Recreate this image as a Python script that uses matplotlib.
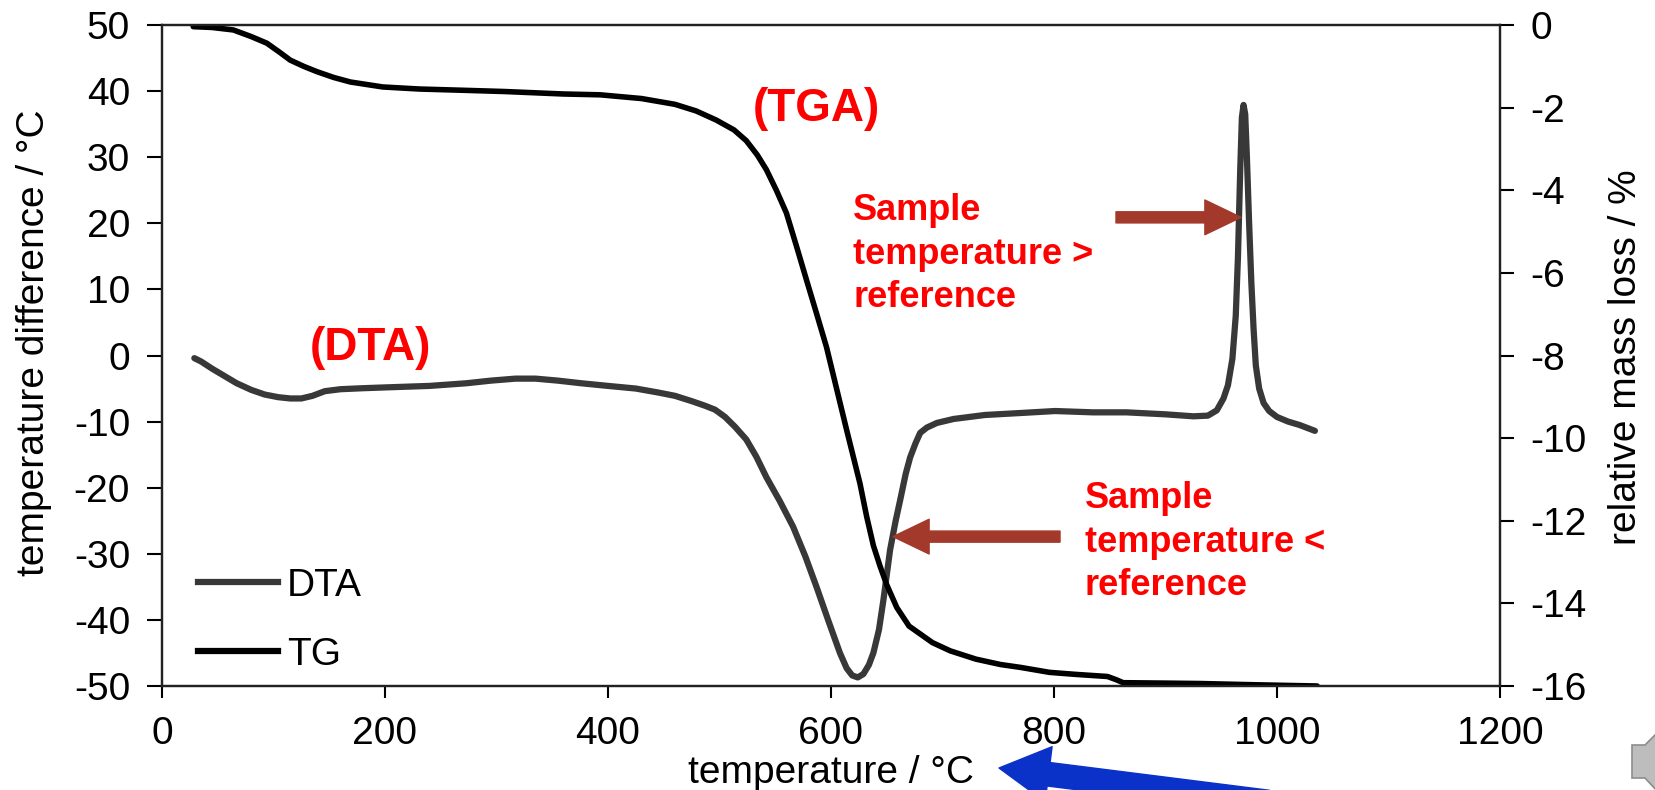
import matplotlib
matplotlib.use("Agg")
import matplotlib.pyplot as plt
from matplotlib.lines import Line2D
from matplotlib.patches import Polygon

plt.rcParams['font.family'] = ['Liberation Sans', 'DejaVu Sans']
plt.rcParams['axes.unicode_minus'] = False

# DTA signal (left axis, temperature difference in °C)
dta_temp = [29, 35, 45, 55, 67, 80, 92, 104, 115, 125, 135, 146, 160, 180, 205,
            240, 273, 295, 317, 335, 355, 376, 400, 425, 445, 460, 475, 487, 496,
            505, 514, 524, 533, 542, 554, 566, 577, 587, 598, 608, 614, 619, 624,
            629, 634, 638, 643, 647, 653, 658, 662, 667, 671, 676, 680, 686, 695,
            710, 738, 770, 801, 835, 865, 900, 925, 938, 946, 952, 956, 960, 963,
            965, 967, 968.5, 970, 971.5, 973, 975, 977, 979, 981, 984, 988, 993,
            1000, 1010, 1020, 1034]
dta_diff = [-0.4, -0.9, -2.0, -3.0, -4.2, -5.2, -5.9, -6.3, -6.5, -6.5, -6.1, -5.4,
            -5.1, -4.95, -4.8, -4.6, -4.2, -3.8, -3.5, -3.5, -3.8, -4.2, -4.6, -5.0,
            -5.6, -6.1, -6.9, -7.6, -8.2, -9.3, -10.8, -12.7, -15.3, -18.4, -22.0,
            -25.9, -30.4, -35.0, -40.3, -45.0, -47.3, -48.4, -48.7, -48.2, -46.8,
            -45.0, -41.5, -37.0, -29.4, -25.0, -21.9, -17.9, -15.4, -13.2, -11.7,
            -10.9, -10.2, -9.6, -9.0, -8.7, -8.4, -8.6, -8.6, -8.9, -9.2, -9.1,
            -8.3, -6.5, -4.5, -0.5, 6.0, 15.0, 28.0, 36.0, 37.9, 36.5, 30.0, 20.0,
            11.0, 4.0, -1.5, -5.0, -7.2, -8.4, -9.3, -10.0, -10.5, -11.4]

# TG signal (right axis, relative mass loss in %)
tg_temp = [28, 45, 64, 80, 94, 105, 115, 127, 139, 154, 169, 198, 231, 270, 307,
           360, 393, 430, 460, 479, 497, 513, 524, 534, 542, 551, 560, 569, 578,
           587, 596, 605, 614, 620, 626, 632, 638, 644, 650, 659, 670, 691, 707,
           730, 752, 770, 796, 820, 848, 856, 862, 900, 931, 980, 1036]
tg_loss = [-0.04, -0.06, -0.12, -0.28, -0.44, -0.65, -0.85, -1.0, -1.13, -1.27,
           -1.38, -1.5, -1.55, -1.58, -1.61, -1.67, -1.69, -1.78, -1.92, -2.08,
           -2.3, -2.54, -2.8, -3.15, -3.5, -4.0, -4.55, -5.35, -6.17, -6.98, -7.8,
           -8.8, -9.8, -10.45, -11.1, -11.9, -12.6, -13.1, -13.55, -14.1, -14.55,
           -14.95, -15.15, -15.35, -15.48, -15.55, -15.67, -15.72, -15.77, -15.85,
           -15.92, -15.93, -15.94, -15.97, -16.0]

x_ticks = list(range(0, 1201, 200))
left_ticks = list(range(-50, 51, 10))
right_ticks = list(range(-16, 1, 2))

dta_color = '#383838'
arrow_brown = '#a3392a'
red = '#ff0000'

fig = plt.figure(figsize=(16.56, 7.9), dpi=100)
ax = fig.add_axes([162 / 1656, 1 - 686 / 790, 1338 / 1656, 661 / 790])
ax2 = ax.twinx()

ax.plot(dta_temp, dta_diff, color=dta_color, lw=4.5, solid_capstyle='round',
        solid_joinstyle='round')
ax2.plot(tg_temp, tg_loss, color='black', lw=4.0, solid_capstyle='round',
         solid_joinstyle='round')

ax.set_xlim(0, 1200)
ax.set_ylim(-50, 50)
ax2.set_ylim(-16, 0)
ax.set_xticks(x_ticks)
ax.set_yticks(left_ticks)
ax2.set_yticks(right_ticks)

for a in (ax, ax2):
    for s in a.spines.values():
        s.set_linewidth(1.6)
        s.set_color('#222222')

ax.tick_params(axis='x', direction='out', length=8.5, width=1.5, labelsize=28, pad=13)
ax.tick_params(axis='y', direction='out', length=11, width=1.5, labelsize=28, pad=12)
ax2.tick_params(axis='y', direction='out', length=10, width=1.5, labelsize=28, pad=12)

ax.set_xlabel('temperature / °C', fontsize=28, labelpad=2)
ax.set_ylabel('temperature difference / °C', fontsize=28, va='center')
ax.yaxis.set_label_coords(-0.0957, 0.52)
ax2.set_ylabel('relative mass loss / %', fontsize=28, va='center', rotation=90)
ax2.yaxis.set_label_coords(1.094, 0.498)

handles = [Line2D([], [], color=dta_color, lw=4.5),
           Line2D([], [], color='black', lw=4.5)]
ax.legend(handles, ['DTA', 'TG'], loc='center left', bbox_to_anchor=(0.0269, 0.0998),
          frameon=False, fontsize=28, borderpad=0, borderaxespad=0,
          handlelength=2.05, handletextpad=0.23, labelspacing=0.85)

# curve labels
ax.text(587, 37.3, '(TGA)', color=red, fontsize=33, fontweight='bold',
        ha='center', va='center')
ax.text(186.6, 1.1, '(DTA)', color=red, fontsize=33, fontweight='bold',
        ha='center', va='center')
ax.text(619.8, 24.6, 'Sample\ntemperature >\nreference', color=red, fontsize=26,
        fontweight='bold', ha='left', va='top', linespacing=1.32)
ax.text(827.8, -19.0, 'Sample\ntemperature <\nreference', color=red, fontsize=26,
        fontweight='bold', ha='left', va='top', linespacing=1.32)

# pointer arrows
arrow_style = 'simple,head_length=26,head_width=25,tail_width=8'
ax.annotate('', xy=(967.7, 20.9), xytext=(855.6, 20.9),
            arrowprops=dict(arrowstyle=arrow_style, color=arrow_brown,
                            shrinkA=0, shrinkB=0, mutation_scale=1))
ax.annotate('', xy=(655.6, -27.4), xytext=(805.4, -27.4),
            arrowprops=dict(arrowstyle=arrow_style, color=arrow_brown,
                            shrinkA=0, shrinkB=0, mutation_scale=1))
ax.annotate('', xy=(999, 22), xytext=(1268, -12), xycoords='figure pixels',
            textcoords='figure pixels', annotation_clip=False,
            arrowprops=dict(arrowstyle='simple,head_length=36,head_width=40,tail_width=17',
                            color='#0a32c8', shrinkA=0, shrinkB=0, mutation_scale=1))

# speaker glyph in the lower right corner
icon = Polygon([(1632, 45), (1645, 45), (1658, 58), (1658, -2), (1645, 12), (1632, 12)],
               closed=True, transform=None, facecolor='#bdbdbd', edgecolor='#8c8c8c',
               lw=1.2)
fig.patches.append(icon)

fig.savefig('out.png', dpi=100)
